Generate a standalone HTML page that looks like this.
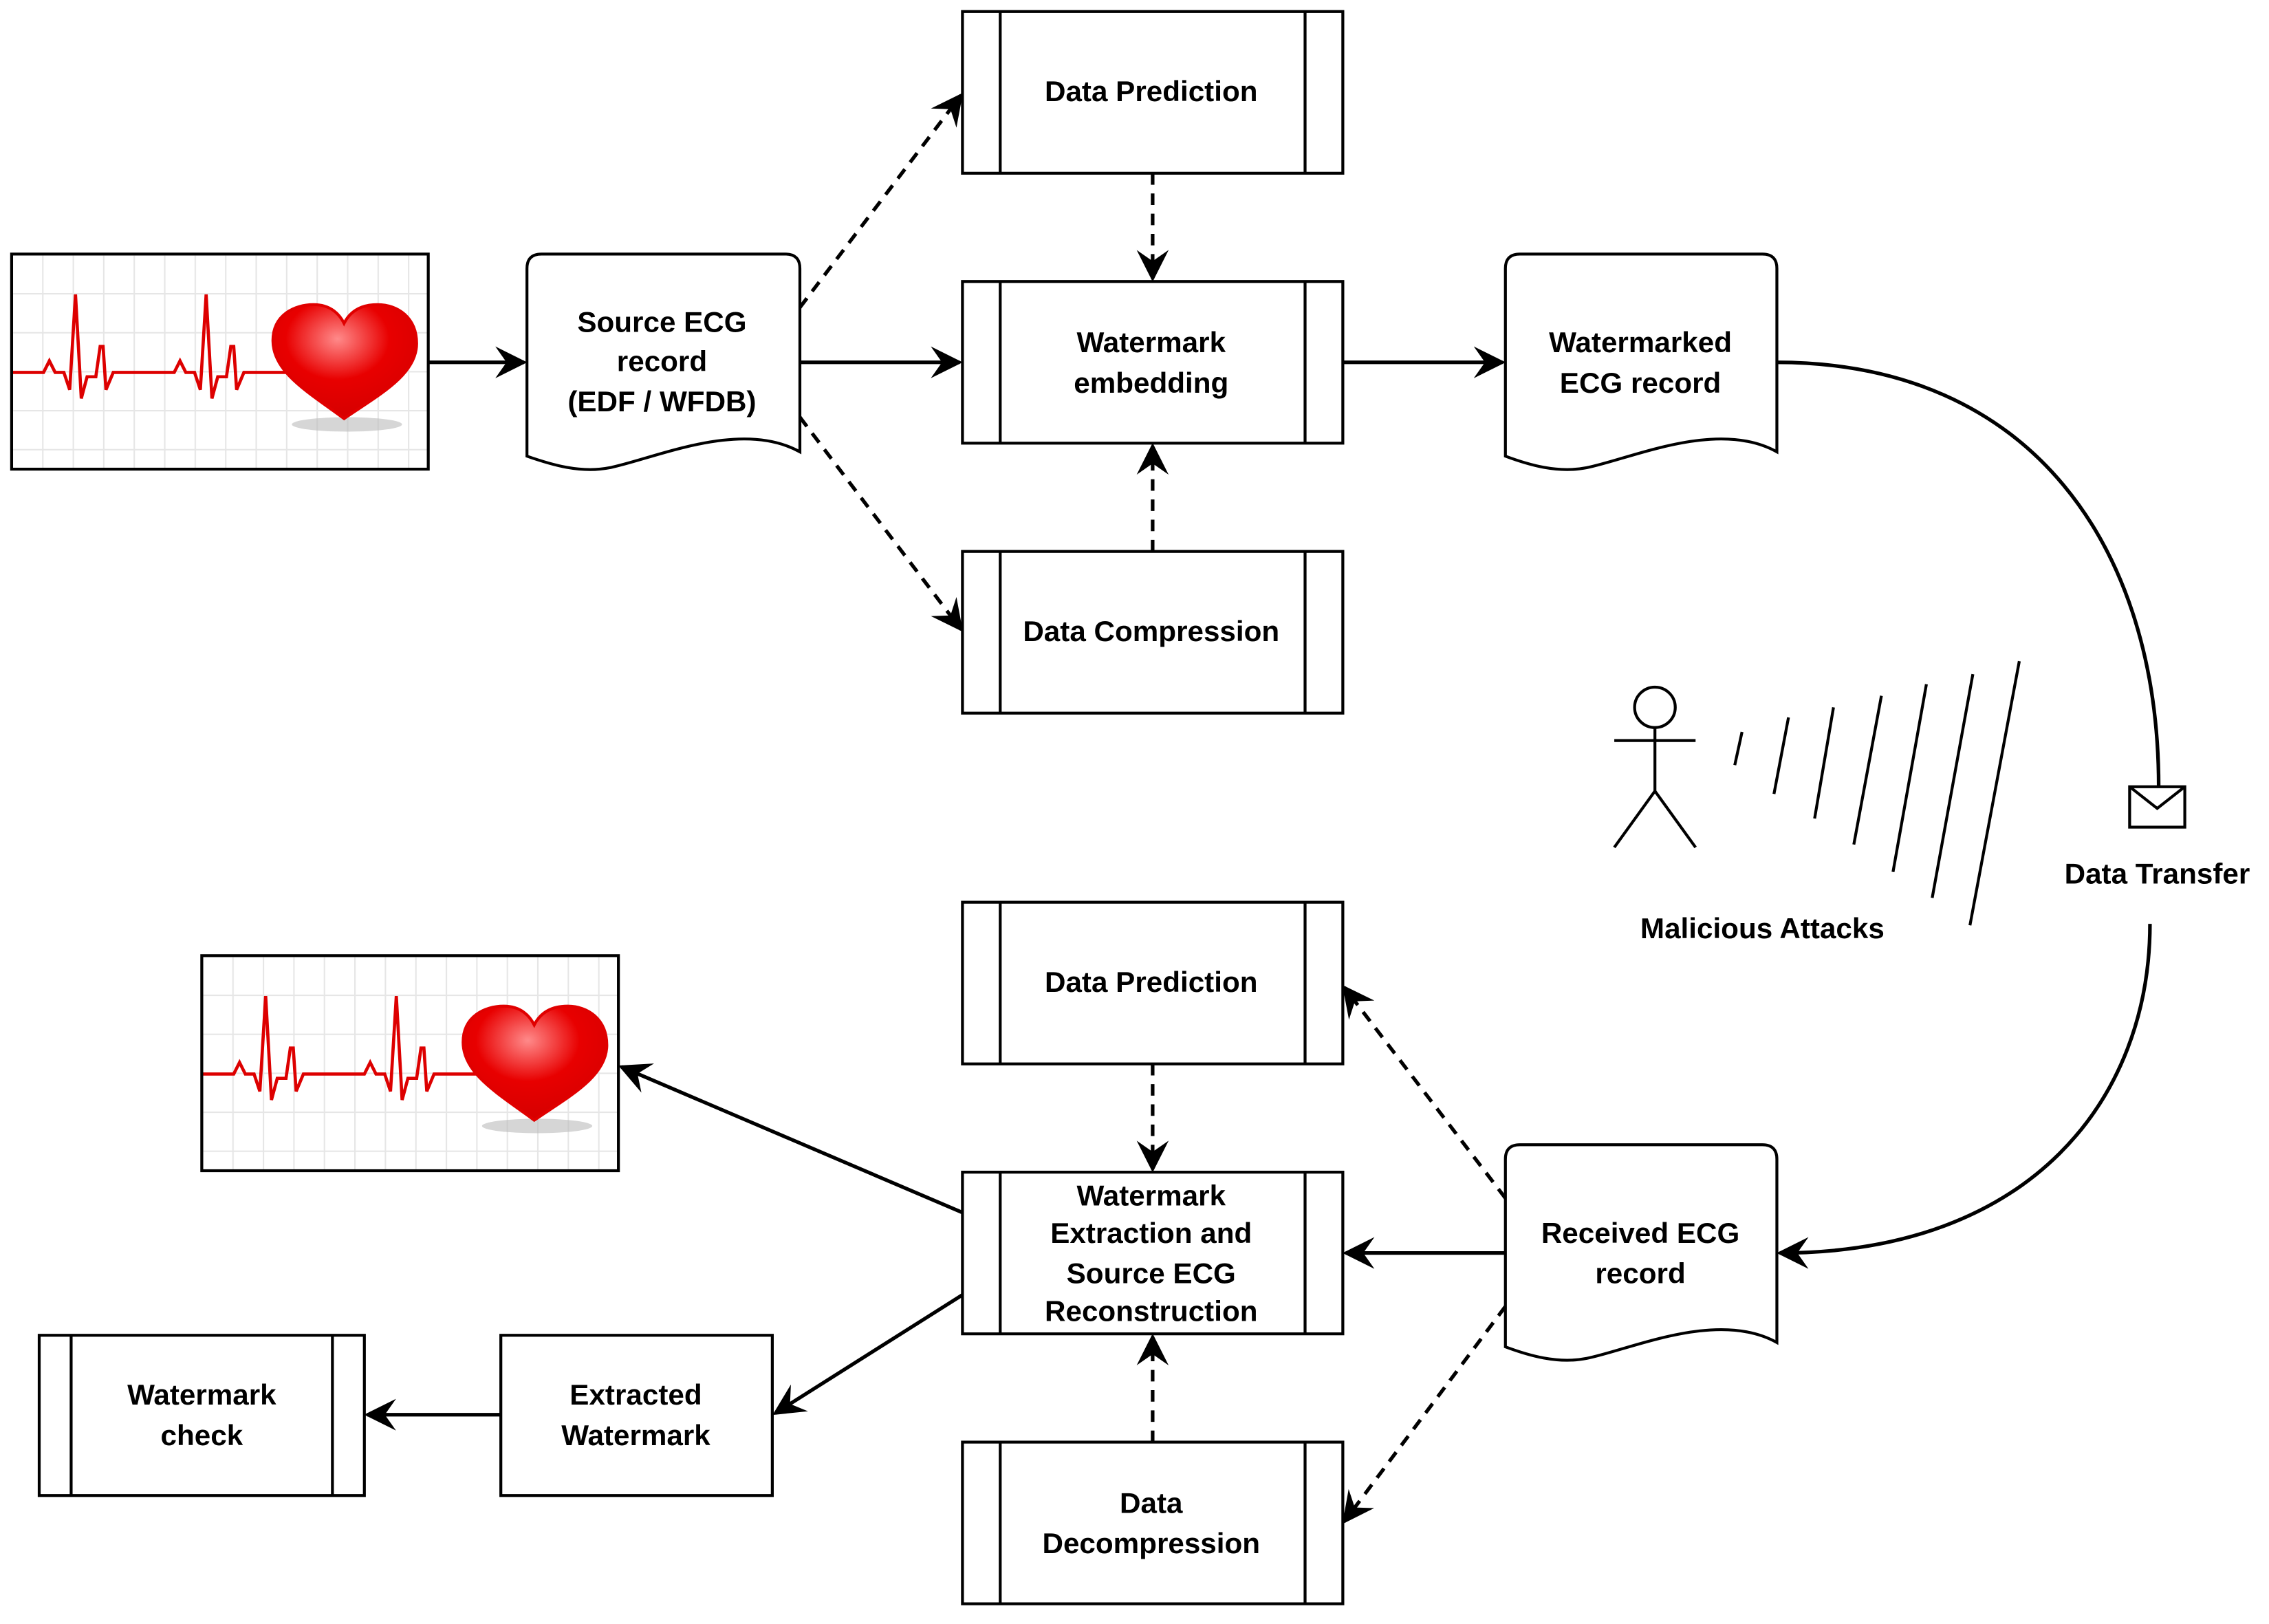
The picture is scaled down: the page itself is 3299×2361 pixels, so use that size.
<!DOCTYPE html>
<html><head><meta charset="utf-8"><style>
html,body{margin:0;padding:0;background:#fff;}
svg{display:block;}
text{font-family:"Liberation Sans",sans-serif;font-weight:bold;font-size:20px;fill:#000;text-anchor:middle;}
</style></head><body>
<svg width="3299" height="2361" viewBox="0 0 1563 1125" preserveAspectRatio="none" xmlns="http://www.w3.org/2000/svg">
<defs>
<marker id="ab" viewBox="0 0 10 10" refX="9" refY="5" markerWidth="22" markerHeight="22" orient="auto" markerUnits="userSpaceOnUse">
<path d="M0,0 L10,5 L0,10 L3.5,5 z" fill="#000"/></marker>
<pattern id="grid" width="21" height="27" patternUnits="userSpaceOnUse">
<rect width="21" height="27" fill="#fff"/>
<path d="M0,0 H21 M0,0 V27" stroke="#e6e6e6" stroke-width="2"/></pattern>
<radialGradient id="hg" cx="0.45" cy="0.3" r="0.8">
<stop offset="0" stop-color="#ff8a8a"/><stop offset="0.45" stop-color="#e80000"/><stop offset="1" stop-color="#d00000"/></radialGradient>
<g id="ecg">
<rect x="0" y="0" width="287" height="149" fill="url(#grid)" stroke="#000" stroke-width="2"/>
<path d="M1,82 H22 L26,74 L30,82 H36 L40,94 L44,28 L48,100 L52,85 H58 L61,64 L63,64 L65,94 L70,82 H112 L116,74 L120,82 H126 L130,94 L134,28 L138,100 L142,85 H148 L151,64 L153,64 L155,94 L160,82 H195" fill="none" stroke="#dd0000" stroke-width="2.2"/>
<ellipse cx="231" cy="118" rx="38" ry="5" fill="#bbb" opacity="0.6"/>
<path d="M229,114 C205,96 180,82 180,60 C180,42 195,35 208,35 C220,35 226,42 229,48 C232,42 238,35 252,35 C266,35 279,44 279,62 C279,84 252,98 229,114 Z" fill="url(#hg)" stroke="#e00000" stroke-width="2"/>
</g>
</defs>

<use href="#ecg" x="8" y="176"/>
<use href="#ecg" x="139" y="662"/>

<g fill="#fff" stroke="#000" stroke-width="2">
<rect x="663" y="8" width="262" height="112"/><path d="M689,8V120M899,8V120"/>
<rect x="663" y="195" width="262" height="112"/><path d="M689,195V307M899,195V307"/>
<rect x="663" y="382" width="262" height="112"/><path d="M689,382V494M899,382V494"/>
<rect x="663" y="625" width="262" height="112"/><path d="M689,625V737M899,625V737"/>
<rect x="663" y="812" width="262" height="112"/><path d="M689,812V924M899,812V924"/>
<rect x="663" y="999" width="262" height="112"/><path d="M689,999V1111M899,999V1111"/>
<rect x="27" y="925" width="224" height="111"/><path d="M49,925V1036M229,925V1036"/>
<rect x="345" y="925" width="187" height="111"/>
<path d="M373,176 H541 Q551,176 551,186 V313 C510,290 450,318 420,324 C400,328 380,322 363,316 V186 Q363,176 373,176 Z"/>
<path d="M1047,176 H1214 Q1224,176 1224,186 V313 C1183,290 1123,318 1093,324 C1073,328 1053,322 1037,316 V186 Q1037,176 1047,176 Z"/>
<path d="M1047,793 H1214 Q1224,793 1224,803 V930 C1183,907 1123,935 1093,941 C1073,945 1053,939 1037,933 V803 Q1037,793 1047,793 Z"/>
<rect x="1467" y="545" width="38" height="28"/><path d="M1467,545 L1486,560 L1505,545" fill="none"/>
</g>

<g fill="none" stroke="#000" stroke-width="2.5">
<path d="M295,251 H361" marker-end="url(#ab)"/>
<path d="M551,251 H661" marker-end="url(#ab)"/>
<path d="M925,251 H1035" marker-end="url(#ab)"/>
<path d="M1224,251 C1400,251 1487,380 1487,545"/>
<path d="M1481,640 C1481,760 1400,868 1226,868" marker-end="url(#ab)"/>
<path d="M1037,868 H927" marker-end="url(#ab)"/>
<path d="M663,840 L428,739" marker-end="url(#ab)"/>
<path d="M663,897 L534,979" marker-end="url(#ab)"/>
<path d="M345,980 H253" marker-end="url(#ab)"/>
</g>
<g fill="none" stroke="#000" stroke-width="2.5" stroke-dasharray="8,6">
<path d="M551,213 L662,66" marker-end="url(#ab)"/>
<path d="M551,289 L662,436" marker-end="url(#ab)"/>
<path d="M794,120 V193" marker-end="url(#ab)"/>
<path d="M794,382 V309" marker-end="url(#ab)"/>
<path d="M1037,830 L926,684" marker-end="url(#ab)"/>
<path d="M1037,905 L926,1054" marker-end="url(#ab)"/>
<path d="M794,737 V810" marker-end="url(#ab)"/>
<path d="M794,999 V926" marker-end="url(#ab)"/>
</g>

<g fill="none" stroke="#000" stroke-width="2">
<circle cx="1140" cy="490" r="14" fill="#fff"/>
<path d="M1140,504 V548 M1112,513 H1168 M1140,548 L1112,587 M1140,548 L1168,587"/>
<path d="M1200,507 L1195,530 M1232,497 L1222,550 M1263,490 L1250,567 M1296,482 L1277,585 M1327,474 L1304,604 M1359,467 L1331,622 M1391,458 L1357,641"/>
</g>

<text x="793" y="70">Data Prediction</text>
<text x="793" y="244">Watermark</text><text x="793" y="272">embedding</text>
<text x="793" y="444">Data Compression</text>
<text x="456" y="230">Source ECG</text><text x="456" y="257">record</text><text x="456" y="285">(EDF / WFDB)</text>
<text x="1130" y="244">Watermarked</text><text x="1130" y="272">ECG record</text>
<text x="1486" y="612">Data Transfer</text>
<text x="1214" y="650">Malicious Attacks</text>
<text x="793" y="687">Data Prediction</text>
<text x="793" y="835">Watermark</text><text x="793" y="861">Extraction and</text><text x="793" y="889">Source ECG</text><text x="793" y="915">Reconstruction</text>
<text x="1130" y="861">Received ECG</text><text x="1130" y="889">record</text>
<text x="793" y="1048">Data</text><text x="793" y="1076">Decompression</text>
<text x="139" y="973">Watermark</text><text x="139" y="1001">check</text>
<text x="438" y="973">Extracted</text><text x="438" y="1001">Watermark</text>
</svg>
</body></html>
